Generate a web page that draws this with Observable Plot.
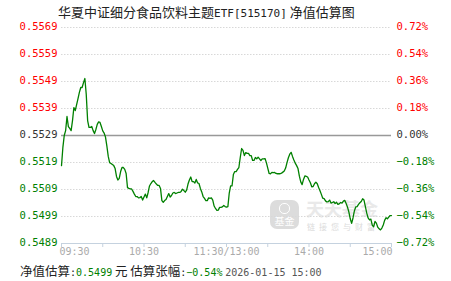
<!DOCTYPE html>
<html><head><meta charset="utf-8">
<script src="https://cdn.jsdelivr.net/npm/d3@7"></script>
<script src="https://cdn.jsdelivr.net/npm/@observablehq/plot@0.6"></script>
<style>
body{margin:0;background:#fff;width:451px;height:281px;overflow:hidden;position:relative;font-family:"Noto Sans CJK SC",sans-serif;}
#title{position:absolute;left:58px;top:3px;font-size:13px;color:#222;white-space:nowrap;line-height:18px;}
#foot{position:absolute;left:20px;top:262px;font-size:12.5px;color:#222;white-space:nowrap;line-height:18px;}
.mono{font-family:"DejaVu Sans Mono",monospace;font-size:10px;}
#chart{position:absolute;left:0;top:0;z-index:2;}
.wm{position:absolute;z-index:1;white-space:nowrap;}
</style></head>
<body>
<div id="title">华夏中证细分食品饮料主题<span class="mono" style="font-size:11px">ETF[515170]</span> 净值估算图</div>
<div class="wm" style="left:270px;top:200px;width:29px;height:29px;border-radius:7px;background:#dcdcdc;color:#fff;font-size:10px;text-align:center;line-height:12px;"><div style="width:9px;height:9px;border-radius:5px;border:1px solid #fff;margin:3px auto 1px auto;"></div>基金</div>
<div class="wm" style="left:306px;top:199px;font-size:18px;line-height:18px;height:18px;font-weight:bold;color:#e9e9e9;">天天基金</div>
<div class="wm" style="left:307px;top:222px;font-size:8px;line-height:9px;height:9px;color:#dcdcdc;letter-spacing:4px;">链接您与财富</div>
<div id="chart"></div>
<div id="foot">净值估算<span class="mono">:</span><span class="mono" style="color:#008000">0.5499</span> 元 估算张幅<span class="mono">:</span><span class="mono" style="color:#008000">−0.54%</span> <span class="mono" style="color:#555">2026-01-15 15:00</span></div>
<script>
// previous NAV (base line)
const baseNav = 0.5529;
// per-minute estimated NAV, 09:30 .. 15:00 (241 points)
const navValues = [
0.55179,0.55246,0.55290,0.55308,0.55360,0.55323,0.55316,0.55308,0.55345,0.55393,
0.55382,0.55404,0.55426,0.55449,0.55467,0.55467,0.55485,0.55500,0.55441,0.55345,
0.55320,0.55320,0.55323,0.55308,0.55297,0.55312,0.55331,0.55340,0.55338,0.55323,
0.55307,0.55299,0.55284,0.55251,0.55213,0.55190,0.55187,0.55183,0.55179,0.55168,
0.55139,0.55126,0.55132,0.55157,0.55172,0.55172,0.55165,0.55150,0.55098,0.55095,
0.55093,0.55093,0.55084,0.55074,0.55065,0.55065,0.55060,0.55061,0.55065,0.55052,
0.55063,0.55074,0.55060,0.55080,0.55104,0.55113,0.55120,0.55124,0.55117,0.55111,
0.55106,0.55106,0.55095,0.55050,0.55044,0.55050,0.55054,0.55065,0.55076,0.55063,
0.55069,0.55078,0.55080,0.55076,0.55078,0.55080,0.55080,0.55084,0.55092,0.55087,
0.55081,0.55089,0.55111,0.55126,0.55137,0.55120,0.55120,0.55115,0.55128,0.55115,
0.55113,0.55095,0.55082,0.55065,0.55058,0.55050,0.55050,0.55060,0.55058,0.55060,
0.55052,0.55030,0.55021,0.55014,0.55015,0.55025,0.55025,0.55027,0.55032,0.55028,
0.55026,0.55028,0.55078,0.55104,0.55104,0.55146,0.55157,0.55157,0.55165,0.55172,
0.55209,0.55242,0.55235,0.55216,0.55227,0.55224,0.55224,0.55216,0.55216,0.55198,
0.55198,0.55209,0.55204,0.55210,0.55204,0.55198,0.55204,0.55204,0.55205,0.55190,
0.55170,0.55150,0.55149,0.55154,0.55153,0.55154,0.55150,0.55149,0.55149,0.55149,
0.55151,0.55155,0.55159,0.55170,0.55190,0.55208,0.55221,0.55228,0.55213,0.55200,
0.55188,0.55179,0.55168,0.55140,0.55119,0.55109,0.55128,0.55141,0.55139,0.55137,
0.55126,0.55116,0.55101,0.55102,0.55112,0.55118,0.55112,0.55098,0.55086,0.55073,
0.55059,0.55057,0.55049,0.55045,0.55046,0.55052,0.55041,0.55043,0.55046,0.55039,
0.55044,0.55036,0.55038,0.55043,0.55041,0.55048,0.55051,0.55039,0.55026,0.55008,
0.54983,0.54966,0.54986,0.55012,0.55027,0.55028,0.55036,0.55042,0.55047,0.55057,
0.55052,0.55028,0.55004,0.54986,0.54979,0.54982,0.54960,0.54953,0.54973,0.54967,
0.54952,0.54946,0.54942,0.54949,0.54960,0.54977,0.54987,0.54983,0.54989,0.54995,
0.54995
];
// y tick levels (percent vs base) and their labels
const pctTicks = [0.72,0.54,0.36,0.18,0,-0.18,-0.36,-0.54,-0.72];
const leftLabels = ["0.5569","0.5559","0.5549","0.5539","0.5529","0.5519","0.5509","0.5499","0.5489"];
const rightLabels = ["0.72%","0.54%","0.36%","0.18%","0.00%","−0.18%","−0.36%","−0.54%","−0.72%"];
// x ticks (minute index) and labels
const xTickMinutes = [0,30,60,90,120,150,180,210,240];
const xLabelMinutes = [0,60,120,180,240];
const xLabels = ["09:30","10:30","11:30/13:00","14:00","15:00"];

const data = navValues.map((v,i)=>({m:i, v}));
const ticks = pctTicks.map((p,i)=>({p, y: baseNav*(1+p/100), l: leftLabels[i], r: rightLabels[i],
  c: p>0 ? "#ff0000" : (p<0 ? "#008000" : "#333333")}));
const yLo = baseNav*(1-0.0072), yHi = baseNav*(1+0.0072);
const tickLen = (yHi - yLo) * 4 / 216; // 4px tick below the axis
const xl = xLabelMinutes.map((m,i)=>({m, t:xLabels[i], i}));
const mono = "DejaVu Sans Mono, monospace";

const chart = Plot.plot({
  width: 451, height: 281,
  marginLeft: 61, marginRight: 60, marginTop: 27, marginBottom: 38,
  x: {domain:[0,240], axis:null},
  y: {domain:[yLo,yHi], axis:null},
  style: {background:"transparent", fontFamily: mono, fontSize: "10px"},
  marks: [
    Plot.ruleY(ticks.filter(d=>d.p!==0 && d.p!==-0.72), {y:"y", stroke:"#d8d8d8", strokeDasharray:"1.5,1.5"}),
    Plot.ruleY([baseNav], {stroke:"#999", strokeWidth:1.3}),
    Plot.ruleY([yLo], {stroke:"#c5d2df"}),
    Plot.ruleX(xTickMinutes, {x: d=>d, y1: ()=>yLo, y2: ()=>yLo - tickLen, stroke:"#c5d2df"}),
    Plot.line(data, {x:"m", y:"v", stroke:"#008000", strokeWidth:1.3}),
    Plot.text(ticks, {y:"y", text:"l", fill:"c", frameAnchor:"left", textAnchor:"end", dx:-4, dy:-1, fontSize:10.5}),
    Plot.text(ticks, {y:"y", text:"r", fill:"c", frameAnchor:"right", textAnchor:"start", dx:5, dy:-1, fontSize:10.5}),
    Plot.text(xl.filter(d=>d.i===0), {x:"m", text:"t", frameAnchor:"bottom", textAnchor:"start", dx:-2, dy:11, fill:"#aaa", fontSize:10}),
    Plot.text(xl.filter(d=>d.i>0 && d.i<4), {x:"m", text:"t", frameAnchor:"bottom", textAnchor:"middle", dy:11, fill:"#aaa", fontSize:10}),
    Plot.text(xl.filter(d=>d.i===4), {x:"m", text:"t", frameAnchor:"bottom", textAnchor:"end", dx:1, dy:11, fill:"#aaa", fontSize:10})
  ]
});
document.getElementById("chart").appendChild(chart);
</script>
</body></html>
